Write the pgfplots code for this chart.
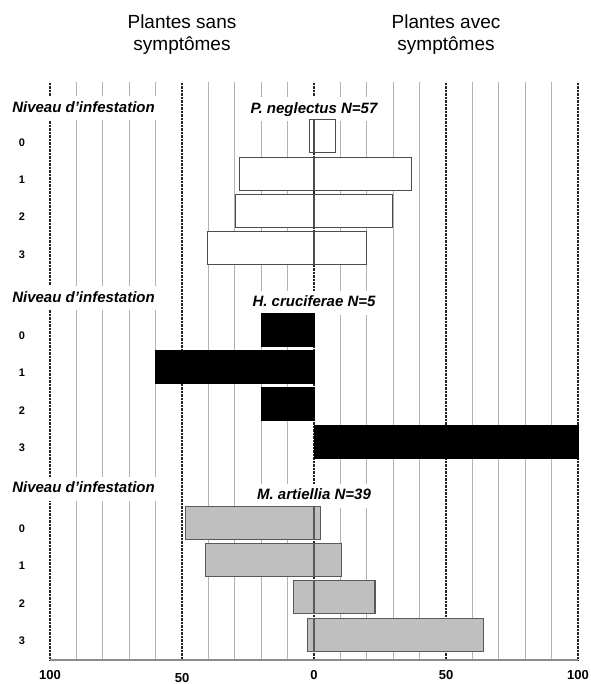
\documentclass[border=0pt]{standalone}
\usepackage{fontspec}
\setmainfont{Liberation Sans}
\usepackage{pgfplots}
\pgfplotsset{compat=1.18}

% rows: panel 1 at 0..-3, panel 2 at -5.18..-8.18, panel 3 at -10.36..-13.36
\begin{document}
\begin{tikzpicture}[
    lbl/.style={fill=white, inner xsep=3pt, inner ysep=5pt, text height=11pt, text depth=3pt,
        font=\fontsize{15}{15}\selectfont\bfseries\itshape},
    ttl/.style={anchor=base, font=\fontsize{19}{19}\selectfont},
]
\begin{axis}[
    scale only axis, width=528pt, height=578pt,
    at={(0,0)}, anchor=south west,
    xmin=-100, xmax=100, ymin=-14.04, ymax=1.46,
    clip=false,
    axis x line*=bottom, axis y line*=left,
    x axis line style={draw=black!45, line width=1.2pt},
    y axis line style={draw=none},
    tick style={draw=none},
    xtick={-100,-50,0,50,100},
    xticklabels={100,\raisebox{-3pt}[\height]{50},0,50,100},
    minor xtick={-90,-80,-70,-60,-40,-30,-20,-10,10,20,30,40,60,70,80,90},
    xmajorgrids, xminorgrids,
    major grid style={black!85, densely dotted, line width=1.2pt},
    minor grid style={black!30, line width=0.9pt},
    xticklabel style={font=\fontsize{13}{13}\selectfont\bfseries, anchor=north, inner sep=0pt, yshift=-10pt},
    ytick={0,-1,-2,-3,-5.18,-6.18,-7.18,-8.18,-10.36,-11.36,-12.36,-13.36},
    yticklabels={0,1,2,3,0,1,2,3,0,1,2,3},
    yticklabel style={font=\fontsize{11}{11}\selectfont\bfseries, anchor=center, inner sep=0pt, xshift=-28pt, yshift=-6pt},
    bar width=0.885,
]
% titles
\node[ttl] at (axis cs:-50,2.882) {Plantes sans};
\node[ttl] at (axis cs:-50,2.292) {symptômes};
\node[ttl] at (axis cs:50,2.882) {Plantes avec};
\node[ttl] at (axis cs:50,2.292) {symptômes};

% panel labels
\node[lbl, anchor=base west] at (axis cs:-115.5,0.643) {Niveau d’infestation};
\node[lbl, anchor=base] at (axis cs:0,0.62) {P. neglectus N=57};
\node[lbl, anchor=base west] at (axis cs:-115.5,-4.45) {Niveau d’infestation};
\node[lbl, anchor=base] at (axis cs:0,-4.57) {H. cruciferae N=5};
\node[lbl, anchor=base west] at (axis cs:-115.5,-9.56) {Niveau d’infestation};
\node[lbl, anchor=base] at (axis cs:0,-9.74) {M. artiellia N=39};

% P. neglectus
\addplot[xbar, bar shift=0pt, fill=white, draw=black!70, line width=1.1pt] coordinates {
    (-1.75,0) (-28.1,-1) (-29.8,-2) (-40.4,-3)
};
\addplot[xbar, bar shift=0pt, fill=white, draw=black!70, line width=1.1pt] coordinates {
    (8.3,0) (36.8,-1) (29.8,-2) (19.9,-3)
};

% H. cruciferae
\addplot[xbar, bar shift=0pt, fill=black, draw=black] coordinates {
    (-20,-5.18) (-60,-6.18) (-20,-7.18)
};
\addplot[xbar, bar shift=0pt, fill=black, draw=black] coordinates {
    (100,-8.18)
};

% M. artiellia
\addplot[xbar, bar shift=0pt, fill=black!25, draw=black!65, line width=1.1pt] coordinates {
    (-48.7,-10.36) (-41,-11.36) (-7.7,-12.36) (-2.6,-13.36)
};
\addplot[xbar, bar shift=0pt, fill=black!25, draw=black!65, line width=1.1pt] coordinates {
    (2.6,-10.36) (10.3,-11.36) (23.1,-12.36) (64.1,-13.36)
};
\end{axis}
\path (-50pt,-24pt) rectangle (540pt,660pt);
\end{tikzpicture}
\end{document}
